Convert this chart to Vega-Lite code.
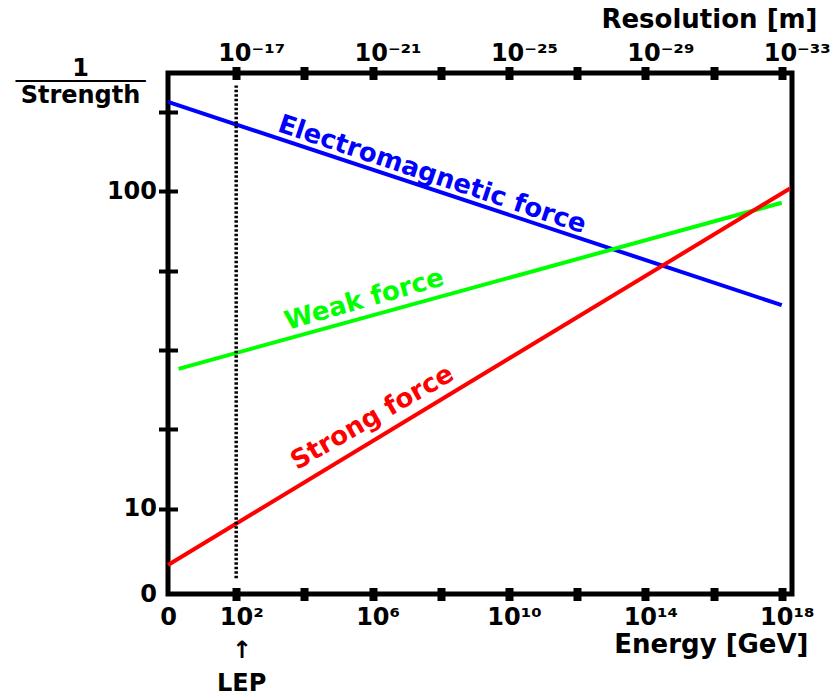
{
  "$schema": "https://vega.github.io/schema/vega-lite/v6.json",
  "width": 624,
  "height": 521,
  "autosize": {"type": "none"},
  "padding": {"left": 168, "top": 73, "right": 39, "bottom": 106},
  "background": "white",
  "config": {
    "font": "DejaVu Sans",
    "view": {"stroke": "black", "strokeWidth": 5, "fill": "white"},
    "axis": {
      "labelFont": "DejaVu Sans", "labelFontWeight": "bold", "labelColor": "black",
      "titleFont": "DejaVu Sans", "titleFontWeight": "bold", "titleColor": "black",
      "tickColor": "black", "grid": false, "domain": false,
      "labelOverlap": false, "labelFlush": false, "labelBound": false
    }
  },
  "datasets": {
    "forces": [
      {"force": "Electromagnetic", "energy": 1, "inv": 191},
      {"force": "Electromagnetic", "energy": 1e18, "inv": 43.8},
      {"force": "Weak", "energy": 2.04, "inv": 27.6},
      {"force": "Weak", "energy": 1e18, "inv": 92},
      {"force": "Strong", "energy": 1, "inv": 6.66},
      {"force": "Strong", "energy": 1.74e18, "inv": 102}
    ],
    "lep": [{"energy": 100, "inv": 6.05, "inv2": 215}],
    "em_label": [{"label": "Electromagnetic force", "energy": 5.6e7, "inv": 112.8}],
    "weak_label": [{"label": "Weak force", "energy": 5.75e5, "inv": 45.6}],
    "strong_label": [{"label": "Strong force", "energy": 9.8e5, "inv": 19.4}]
  },
  "layer": [
    {
      "data": {"name": "forces"},
      "mark": {"type": "line", "strokeWidth": 4},
      "encoding": {
        "x": {
          "field": "energy", "type": "quantitative",
          "scale": {"type": "log", "domain": [1, 2e18], "nice": false},
          "axis": {
            "orient": "bottom",
            "values": [1, 1e2, 1e4, 1e6, 1e8, 1e10, 1e12, 1e14, 1e16, 1e18],
            "labelExpr": "datum.value < 2 ? '0' : (round(log(datum.value)/LN10) == 2 ? ['10²', '↑', 'LEP'] : (round(log(datum.value)/LN10) == 6 ? '10⁶' : (round(log(datum.value)/LN10) == 10 ? '10¹⁰' : (round(log(datum.value)/LN10) == 14 ? '10¹⁴' : (round(log(datum.value)/LN10) == 18 ? '10¹⁸' : '')))))",
            "tickSize": 13, "tickWidth": 8, "offset": -6.5,
            "tickOpacity": {"condition": {"test": "datum.value < 2", "value": 0}, "value": 1},
            "labelPadding": 5, "labelFontSize": 24, "labelLineHeight": 33,
            "labelOffset": {"condition": {"test": "datum.value < 2", "value": 0}, "value": 5},
            "title": "Energy [GeV]", "titleFontSize": 26,
            "titleAnchor": "end", "titleAlign": "right", "titleBaseline": "alphabetic",
            "titleX": 640, "titleY": 64.5
          }
        },
        "y": {
          "field": "inv", "type": "quantitative",
          "scale": {"type": "log", "domain": [5.395, 235.6], "nice": false},
          "axis": {
            "values": [5.395, 10, 17.78279, 31.62278, 56.23413, 100, 177.8279],
            "labelExpr": "datum.value < 6 ? '0' : (datum.value == 10 ? '10' : (datum.value == 100 ? '100' : ''))",
            "tickSize": 19, "tickWidth": 4, "offset": -9.5,
            "tickOpacity": {"condition": {"test": "datum.value < 6", "value": 0}, "value": 1},
            "labelPadding": 2, "labelFontSize": 24,
            "title": ["1", "─────────", "Strength"],
            "titleAngle": 0, "titleFontSize": 24, "titleLineHeight": 13.5,
            "titleAlign": "center", "titleBaseline": "alphabetic",
            "titleX": -97.5, "titleY": 2
          }
        },
        "color": {
          "field": "force", "type": "nominal",
          "scale": {"domain": ["Electromagnetic", "Weak", "Strong"], "range": ["#0000ff", "#00ff00", "#ff0000"]},
          "legend": null
        }
      }
    },
    {
      "data": {"name": "lep"},
      "mark": {"type": "rule", "strokeWidth": 3.5, "strokeDash": [2.5, 2], "color": "black"},
      "encoding": {
        "x": {
          "field": "energy", "type": "quantitative",
          "scale": {"type": "log", "domain": [1, 2e18], "nice": false},
          "axis": {
            "orient": "top",
            "values": [1e2, 1e4, 1e6, 1e8, 1e10, 1e12, 1e14, 1e16, 1e18],
            "labelExpr": "round(log(datum.value)/LN10) == 2 ? '10⁻¹⁷' : (round(log(datum.value)/LN10) == 6 ? '10⁻²¹' : (round(log(datum.value)/LN10) == 10 ? '10⁻²⁵' : (round(log(datum.value)/LN10) == 14 ? '10⁻²⁹' : (round(log(datum.value)/LN10) == 18 ? '10⁻³³' : ''))))",
            "tickSize": 13, "tickWidth": 8, "offset": -6.5,
            "labelPadding": 6, "labelFontSize": 24, "labelBaseline": "alphabetic",
            "labelOffset": 15,
            "title": "Resolution [m]", "titleFontSize": 26,
            "titleAnchor": "end", "titleAlign": "right", "titleBaseline": "alphabetic",
            "titleX": 649, "titleY": -52.5
          }
        },
        "y": {"field": "inv", "type": "quantitative"},
        "y2": {"field": "inv2"}
      }
    },
    {
      "data": {"name": "em_label"},
      "mark": {"type": "text", "angle": 18.5, "color": "#0000ff", "fontSize": 26, "fontWeight": "bold", "font": "DejaVu Sans", "align": "center", "baseline": "middle"},
      "encoding": {
        "x": {"field": "energy", "type": "quantitative", "axis": null},
        "y": {"field": "inv", "type": "quantitative"},
        "text": {"field": "label"}
      }
    },
    {
      "data": {"name": "weak_label"},
      "mark": {"type": "text", "angle": -16, "color": "#00ff00", "fontSize": 26, "fontWeight": "bold", "font": "DejaVu Sans", "align": "center", "baseline": "middle"},
      "encoding": {
        "x": {"field": "energy", "type": "quantitative", "axis": null},
        "y": {"field": "inv", "type": "quantitative"},
        "text": {"field": "label"}
      }
    },
    {
      "data": {"name": "strong_label"},
      "mark": {"type": "text", "angle": -30, "color": "#ff0000", "fontSize": 26, "fontWeight": "bold", "font": "DejaVu Sans", "align": "center", "baseline": "middle"},
      "encoding": {
        "x": {"field": "energy", "type": "quantitative", "axis": null},
        "y": {"field": "inv", "type": "quantitative"},
        "text": {"field": "label"}
      }
    }
  ],
  "resolve": {"axis": {"x": "independent"}}
}
